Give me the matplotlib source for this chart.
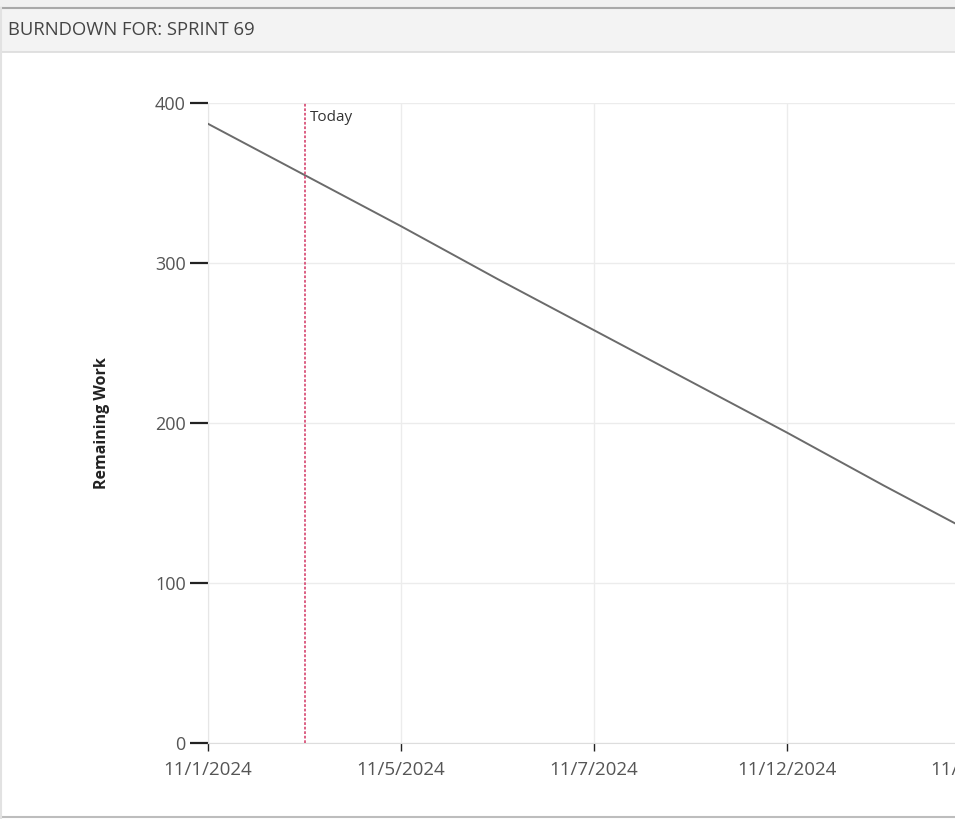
import matplotlib.pyplot as plt
from matplotlib.patches import Rectangle
from matplotlib.lines import Line2D

days = ['11/1/2024', '11/4/2024', '11/5/2024', '11/6/2024', '11/7/2024',
        '11/8/2024', '11/12/2024', '11/13/2024', '11/14/2024']
remaining = [387, 355, 323, 290, 258, 226, 194, 161, 129]
today = '11/4/2024'
y_ticks = [0, 100, 200, 300, 400]

plt.rcParams['font.family'] = ['Open Sans', 'DejaVu Sans']

W, H = 955, 819
fig = plt.figure(figsize=(W / 100, H / 100), dpi=100)

# moldura / cabecalho do painel
fig.patches.append(Rectangle((0, 0), 1, 1, transform=fig.transFigure,
                             facecolor='white', edgecolor='none', zorder=-10))
fig.patches.append(Rectangle((0, 1 - 8 / H), 1, 8 / H, transform=fig.transFigure,
                             facecolor='#f0f0f0', edgecolor='none', zorder=-9))
fig.patches.append(Rectangle((0, 1 - 52 / H), 1, 44 / H, transform=fig.transFigure,
                             facecolor='#f3f3f3', edgecolor='none', zorder=-9))
fig.lines.append(Line2D([0, 1], [1 - 7.5 / H] * 2, transform=fig.transFigure,
                        color='#a8a8a8', lw=1.5))
fig.lines.append(Line2D([0, 1], [1 - 52 / H] * 2, transform=fig.transFigure,
                        color='#dcdcdc', lw=1.2))
fig.lines.append(Line2D([0, 1], [2 / H] * 2, transform=fig.transFigure,
                        color='#bdbdbd', lw=1.5))
fig.lines.append(Line2D([1 / W] * 2, [0, 1 - 8 / H], transform=fig.transFigure,
                        color='#e2e2e2', lw=1.5))
fig.text(8 / W, 1 - 30 / H, 'BURNDOWN FOR: SPRINT 69', fontsize=13.3,
         color='#444444', va='center', ha='left')

# eixo: cada dia util ocupa ~96.5 px, o grafico continua alem da borda direita
step = 96.5
n_span = 12
left, top, bottom = 208, 103, 743
ax = fig.add_axes([left / W, (H - bottom) / H, n_span * step / W, (bottom - top) / H])
ax.set_xlim(0, n_span)
ax.set_ylim(0, 400)

x = list(range(len(days)))
ax.plot(x, remaining, color='#6b6b6b', lw=1.4, zorder=3)

t = days.index(today)
ax.axvline(t, color='#d9537a', lw=1.3, ls=(0, (1.5, 1)), zorder=4)
ax.text(t + 0.06, 391, 'Today', fontsize=11, color='#333333', va='center', ha='left')

ax.set_yticks(y_ticks)
ax.set_yticklabels([str(v) for v in y_ticks])
xt = x[::2]
ax.set_xticks(xt)
ax.set_xticklabels([days[i] for i in xt])

ax.tick_params(axis='y', length=13, width=1.6, color='#222222', pad=3,
               labelsize=13, labelcolor='#555555')
ax.tick_params(axis='x', length=6, width=1, color='#222222', pad=7,
               labelsize=13.5, labelcolor='#555555')

ax.grid(True, color='#ececec', lw=1)
ax.set_axisbelow(True)
for s in ['top', 'right']:
    ax.spines[s].set_visible(False)
ax.spines['left'].set_color('#e6e6e6')
ax.spines['bottom'].set_color('#dddddd')

fig.text(102 / W, 1 - 423 / H, 'Remaining Work', rotation=90, fontsize=11.5,
         fontweight='bold', color='#222222', va='center', ha='center')

fig.savefig('out.png', dpi=100)
plt.close()
